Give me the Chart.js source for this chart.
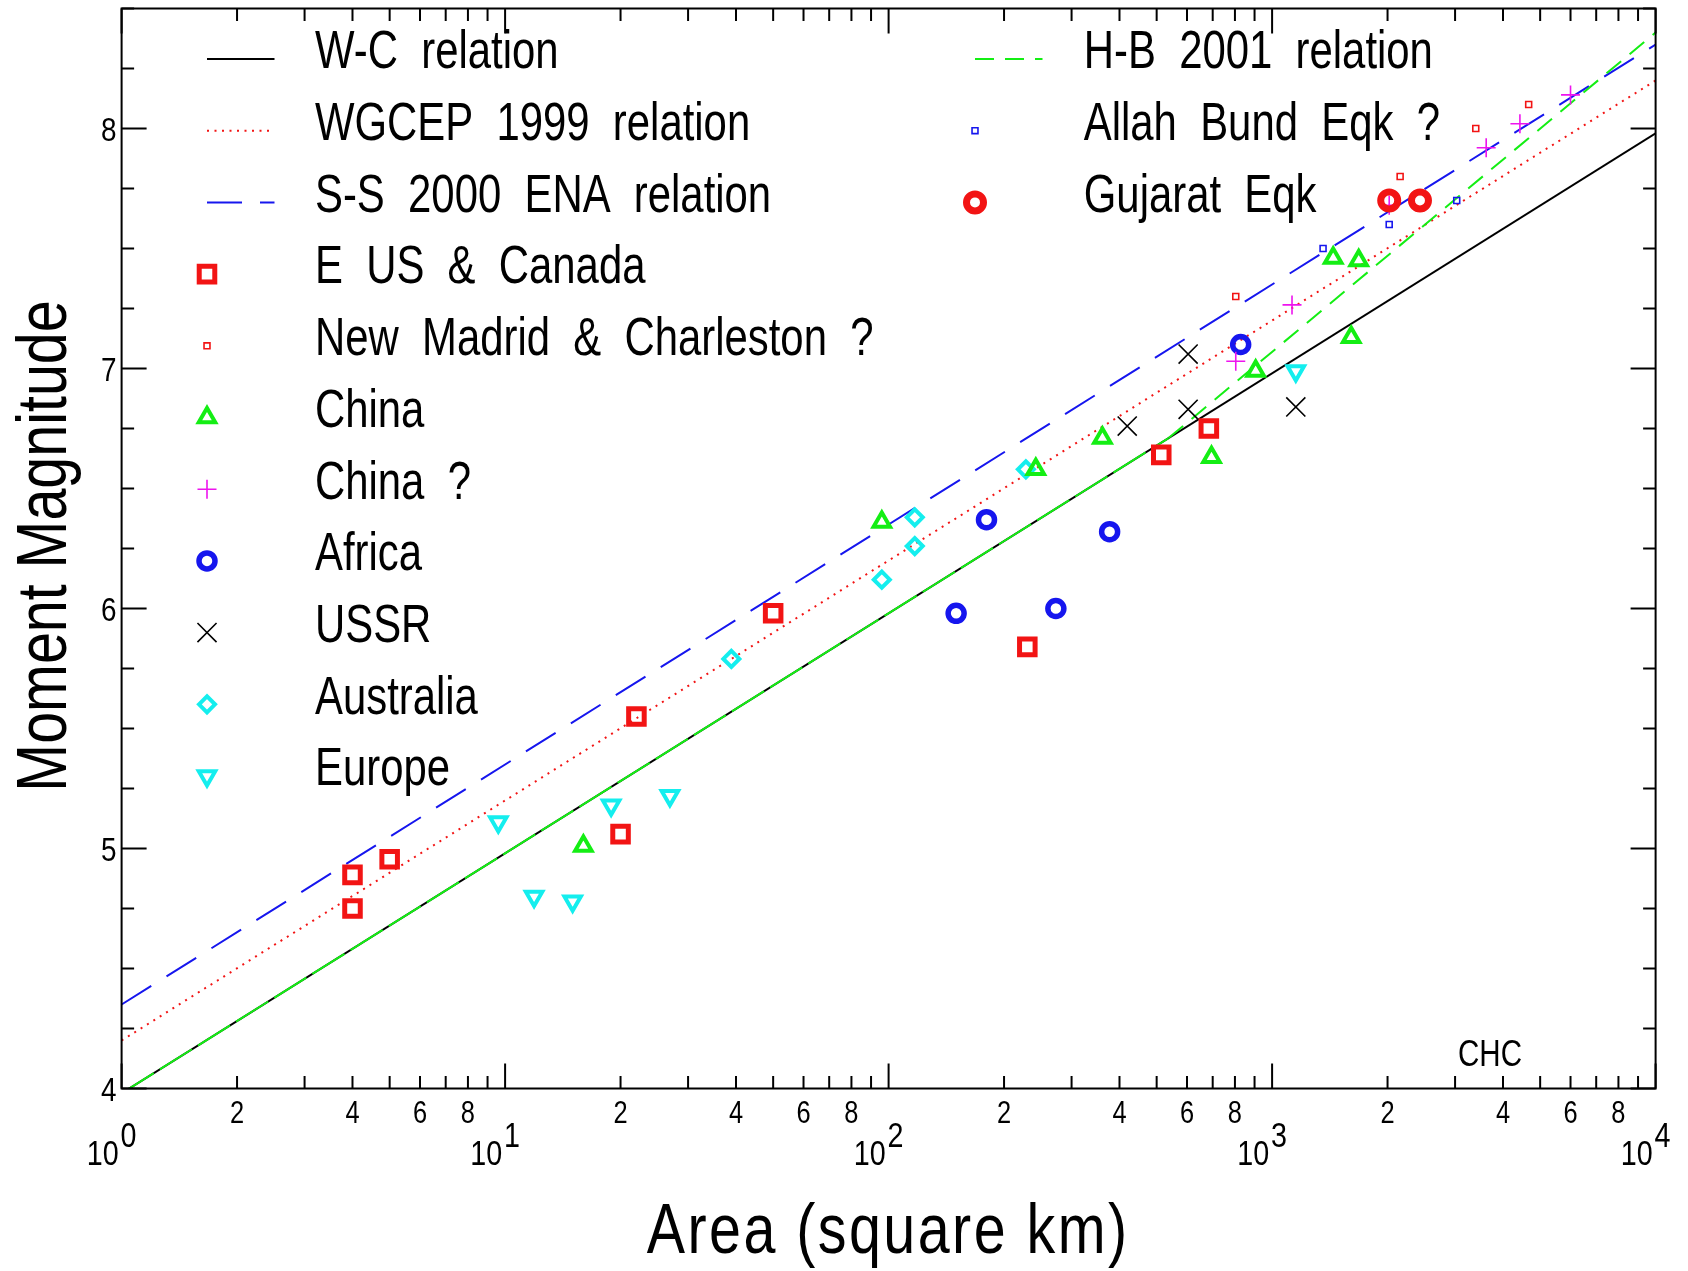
<!DOCTYPE html>
<html>
<head>
<meta charset="utf-8">
<script src="https://cdn.jsdelivr.net/npm/chart.js@4.4.1/dist/chart.umd.min.js"></script>
<style>
  html, body { margin: 0; padding: 0; background: #fff; }
  canvas { display: block; }
</style>
</head>
<body>
<canvas id="myChart" width="1688" height="1271"></canvas>
<script>
'use strict';
// relation lines, end points (area km2 / moment magnitude)
const wcArea = [1, 10000];
const wcMag = [3.98, 7.98];
const wgArea = [1, 10000];
const wgMag = [4.2, 8.2];
const ssArea = [1, 10000];
const ssMag = [4.35, 8.35];
const hbArea = [1, 537, 10000];
const hbMag = [3.98, 6.71, 8.40];

// earthquakes
const euArea = [4.0, 4.0, 5.0, 20, 22, 50, 230, 514, 684];
const euMag = [4.89, 4.75, 4.955, 5.06, 5.55, 5.98, 5.84, 6.64, 6.75];
const nmArea = [804, 2157, 3397, 4667];
const nmMag = [7.30, 7.80, 8.00, 8.10];
const chArea = [16.0, 96, 242, 361, 695, 906, 1443, 1682, 1608];
const chMag = [5.01, 6.36, 6.58, 6.71, 6.63, 6.99, 7.46, 7.45, 7.13];
const chqArea = [804, 1127, 2020, 3616, 4428, 6000];
const chqMag = [7.03, 7.265, 7.68, 7.92, 8.02, 8.14];
const afArea = [150, 180, 273, 377, 828];
const afMag = [5.98, 6.37, 6.00, 6.32, 7.10];
const usArea = [419, 604, 604, 1153];
const usMag = [6.76, 7.06, 6.83, 6.84];
const auArea = [38.9, 96, 117, 117, 228];
const auMag = [5.79, 6.12, 6.38, 6.26, 6.58];
const eoArea = [9.6, 11.9, 15.0, 18.9, 26.9, 1153];
const eoMag = [5.11, 4.80, 4.78, 5.18, 5.22, 6.99];
const abArea = [1358, 2020, 3030];
const abMag = [7.50, 7.60, 7.70];
const guArea = [2020, 2430];
const guMag = [7.70, 7.70];

// axes
const yTicks = [4, 5, 6, 7, 8];
const yTickLabels = ['4', '5', '6', '7', '8'];
const xDecades = [1, 10, 100, 1000, 10000];
const xDecadeExp = ['0', '1', '2', '3', '4'];
const xMinorVals = [2, 4, 6, 8];
const xMinorLabels = ['2', '4', '6', '8'];

const leftLegend = ['W-C relation', 'WGCEP 1999 relation', 'S-S 2000 ENA relation', 'E US & Canada',
  'New Madrid & Charleston ?', 'China', 'China ?', 'Africa', 'USSR', 'Australia', 'Europe'];
const rightLegend = ['H-B 2001 relation', 'Allah Bund Eqk ?', 'Gujarat Eqk'];

const RED = '#f21414';
const GREEN = '#14ee14';
const BLUE = '#1616ee';
const CYAN = '#14eeee';
const MAGENTA = '#ee14ee';
const FONT = '"Liberation Sans", Arial, sans-serif';
const NONE = 'rgba(0,0,0,0)';

function pts( xs, ys ) {
  return xs.map( ( v, i ) => ( { x: v, y: ys[i] } ) );
}

function rel( label, xs, ys, color, dash, order ) {
  return {
    type: 'line', label: label, data: pts( xs, ys ), borderColor: color, borderWidth: 2,
    borderDash: dash, pointRadius: 0, fill: false, tension: 0, order: order
  };
}

function quake( label, xs, ys, color, style, radius, bw, rot ) {
  return {
    type: 'scatter', label: label, data: pts( xs, ys ), pointStyle: style, pointRadius: radius,
    pointHoverRadius: radius, pointBorderWidth: bw, pointBorderColor: color,
    pointBackgroundColor: NONE, pointRotation: rot || 0, order: 1
  };
}

let hb = rel( 'H-B 2001 relation', hbArea, hbMag, GREEN, [19, 11], 2 );
hb.segment = { borderDash: c => ( c.p0DataIndex === 0 ? [38, 7] : undefined ) };

const datasets = [
  rel( 'W-C relation', wcArea, wcMag, '#000', [], 5 ),
  rel( 'WGCEP 1999 relation', wgArea, wgMag, RED, [2, 5.5], 4 ),
  rel( 'S-S 2000 ENA relation', ssArea, ssMag, BLUE, [35, 18], 3 ),
  hb,
  quake( 'E US & Canada', euArea, euMag, RED, 'rect', 11, 5 ),
  quake( 'New Madrid & Charleston ?', nmArea, nmMag, RED, 'rect', 4.2, 1.6 ),
  quake( 'China', chArea, chMag, GREEN, 'triangle', 9.5, 4 ),
  quake( 'China ?', chqArea, chqMag, MAGENTA, 'cross', 9.5, 1.6 ),
  quake( 'Africa', afArea, afMag, BLUE, 'circle', 8, 5.5 ),
  quake( 'USSR', usArea, usMag, '#000', 'crossRot', 13.5, 1.6 ),
  quake( 'Australia', auArea, auMag, CYAN, 'rectRot', 8, 4 ),
  quake( 'Europe', eoArea, eoMag, CYAN, 'triangle', 9.5, 4, 180 ),
  quake( 'Allah Bund Eqk ?', abArea, abMag, BLUE, 'rect', 4.2, 1.6 ),
  quake( 'Gujarat Eqk', guArea, guMag, RED, 'circle', 8.5, 7 )
];
datasets[datasets.length - 1].order = 0;

function seg( ctx, x1, y1, x2, y2 ) {
  ctx.beginPath();
  ctx.moveTo( x1, y1 );
  ctx.lineTo( x2, y2 );
  ctx.stroke();
}

// narrow text, like the plotting package letters
function txt( ctx, s, x, y, size, align, spacing, rot, narrow ) {
  ctx.save();
  ctx.translate( x, y );
  if ( rot ) {
    ctx.rotate( rot );
  }
  ctx.scale( narrow || 0.82, 1 );
  ctx.font = size + 'px ' + FONT;
  ctx.letterSpacing = ( spacing || 0 ) + 'px';
  ctx.textAlign = align;
  ctx.textBaseline = 'alphabetic';
  ctx.fillText( s, 0, 0 );
  ctx.restore();
}

// frame, inward ticks, tick labels, titles and legend
const framePlugin = {
  id: 'framePlugin',
  afterDatasetsDraw( chart ) {
    const ctx = chart.ctx;
    const a = chart.chartArea;
    const x = chart.scales.x;
    const y = chart.scales.y;
    ctx.save();
    ctx.strokeStyle = '#000';
    ctx.fillStyle = '#000';
    ctx.lineWidth = 2;
    ctx.setLineDash( [] );
    ctx.strokeRect( a.left, a.top, a.right - a.left, a.bottom - a.top );

    // y ticks every 0.25
    for ( let v = y.min; v <= y.max + 1e-6; v += 0.25 ) {
      const py = y.getPixelForValue( v );
      const len = Math.abs( v - Math.round( v ) ) < 1e-6 ? 25 : 12.5;
      seg( ctx, a.left, py, a.left + len, py );
      seg( ctx, a.right, py, a.right - len, py );
    }
    for ( let i = 0; i < yTicks.length; i++ ) {
      txt( ctx, yTickLabels[i], a.left - 5, y.getPixelForValue( yTicks[i] ) + 12, 34, 'right' );
    }

    // x ticks
    for ( let i = 0; i < xDecades.length; i++ ) {
      const d = xDecades[i];
      const px = x.getPixelForValue( d );
      seg( ctx, px, a.bottom, px, a.bottom - 25 );
      seg( ctx, px, a.top, px, a.top + 25 );
      txt( ctx, '10', px - 3, a.bottom + 76.5, 35, 'right' );
      txt( ctx, xDecadeExp[i], px - 1, a.bottom + 58, 35, 'left' );
      if ( i === xDecades.length - 1 ) {
        break;
      }
      for ( let m = 2; m <= 9; m++ ) {
        const mx = x.getPixelForValue( m * d );
        seg( ctx, mx, a.bottom, mx, a.bottom - 12.5 );
        seg( ctx, mx, a.top, mx, a.top + 12.5 );
      }
      for ( let k = 0; k < xMinorVals.length; k++ ) {
        txt( ctx, xMinorLabels[k], x.getPixelForValue( xMinorVals[k] * d ), a.bottom + 34.5, 31, 'center' );
      }
    }

    // CHC
    txt( ctx, 'CHC', 1490, 1066, 36, 'center' );

    // axis titles
    txt( ctx, chart.options.scales.x.title.text, ( a.left + a.right ) / 2 - 0.5, 1253, 70, 'center', 3 );
    txt( ctx, chart.options.scales.y.title.text, 66, 546, 70, 'center', 0, -Math.PI / 2 );

    // legend
    const drawCol = ( names, x0, tx ) => {
      for ( let r = 0; r < names.length; r++ ) {
        const ds = chart.data.datasets.find( s => s.label === names[r] );
        const ry = a.top + 50.5 + r * 71.7;
        ctx.save();
        if ( ds.type === 'line' ) {
          ctx.strokeStyle = ds.borderColor;
          ctx.lineWidth = ds.borderWidth;
          ctx.setLineDash( ds.borderDash );
          seg( ctx, x0, ry, x0 + 67.5, ry );
        } else {
          ctx.strokeStyle = ds.pointBorderColor;
          ctx.fillStyle = NONE;
          ctx.lineWidth = ds.pointBorderWidth;
          Chart.helpers.drawPoint( ctx, {
            pointStyle: ds.pointStyle, radius: ds.pointRadius,
            borderWidth: ds.pointBorderWidth, rotation: ds.pointRotation
          }, x0, ry );
        }
        ctx.restore();
        txt( ctx, names[r].replace( / /g, '  ' ), tx, ry + 9.3, 53, 'left', 0, 0, 0.79 );
      }
    };
    drawCol( leftLegend, a.left + 85.4, a.left + 193.4 );
    drawCol( rightLegend, a.left + 853.4, a.left + 962.2 );
    ctx.restore();
  }
};

Chart.defaults.font.family = FONT;

const ctx = document.getElementById( 'myChart' ).getContext( '2d' );
const myChart = new Chart( ctx, {
  type: 'scatter',
  data: { datasets: datasets },
  options: {
    responsive: false,
    animation: false,
    devicePixelRatio: 1,
    layout: { autoPadding: false, padding: { left: 121.6, right: 32.4, top: 8.5, bottom: 182.5 } },
    plugins: { legend: { display: false }, tooltip: { enabled: false } },
    scales: {
      x: {
        type: 'logarithmic', min: 1, max: 10000, display: false,
        title: { display: false, text: 'Area (square km)' }
      },
      y: {
        type: 'linear', min: 4, max: 8.5, display: false,
        title: { display: false, text: 'Moment Magnitude' }
      }
    }
  },
  plugins: [framePlugin]
} );
</script>
</body>
</html>
